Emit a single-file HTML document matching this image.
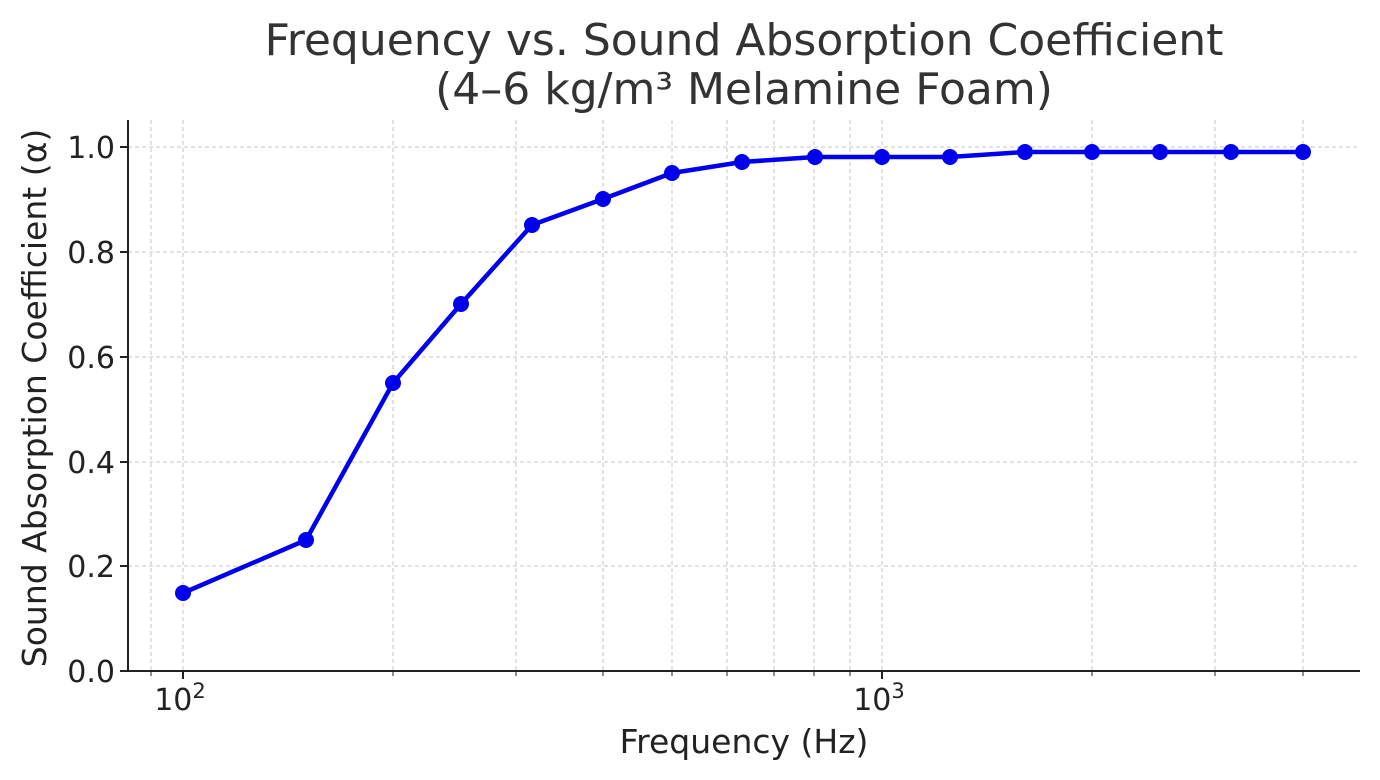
<!DOCTYPE html>
<html><head><meta charset="utf-8"><style>body{margin:0;background:#fff}svg{display:block}text{font-family:"DejaVu Sans","Liberation Sans",sans-serif;fill:#222}</style></head>
<body>
<svg width="1380" height="780" viewBox="0 0 1380 780">
<text x="744" y="55" font-size="44" text-anchor="middle" style="fill:#333">Frequency vs. Sound Absorption Coefficient</text>
<text x="744" y="104" font-size="44" text-anchor="middle" style="fill:#333">(4–6 kg/m³ Melamine Foam)</text>
<g stroke="#c4c4c4" stroke-width="1" stroke-dasharray="4,3">
<line x1="128" x2="1360" y1="566" y2="566"/><line x1="128" x2="1360" y1="462" y2="462"/><line x1="128" x2="1360" y1="357" y2="357"/><line x1="128" x2="1360" y1="252" y2="252"/><line x1="128" x2="1360" y1="147" y2="147"/>
<line x1="151" x2="151" y1="120" y2="671"/><line x1="183" x2="183" y1="120" y2="671"/><line x1="393" x2="393" y1="120" y2="671"/><line x1="516" x2="516" y1="120" y2="671"/><line x1="603" x2="603" y1="120" y2="671"/><line x1="672" x2="672" y1="120" y2="671"/><line x1="727" x2="727" y1="120" y2="671"/><line x1="774" x2="774" y1="120" y2="671"/><line x1="814" x2="814" y1="120" y2="671"/><line x1="850" x2="850" y1="120" y2="671"/><line x1="882" x2="882" y1="120" y2="671"/><line x1="1092" x2="1092" y1="120" y2="671"/><line x1="1215" x2="1215" y1="120" y2="671"/><line x1="1303" x2="1303" y1="120" y2="671"/>
</g>
<g stroke="#222" stroke-width="2">
<line x1="128" x2="128" y1="120" y2="672"/><line x1="127" x2="1360" y1="671" y2="671"/>
<line x1="120" x2="128" y1="671" y2="671"/><line x1="120" x2="128" y1="566" y2="566"/><line x1="120" x2="128" y1="462" y2="462"/><line x1="120" x2="128" y1="357" y2="357"/><line x1="120" x2="128" y1="252" y2="252"/><line x1="120" x2="128" y1="147" y2="147"/>
<line x1="183" x2="183" y1="671" y2="679"/><line x1="882" x2="882" y1="671" y2="679"/>
</g>
<g stroke="#222" stroke-width="1">
<line x1="151" x2="151" y1="671" y2="676"/><line x1="393" x2="393" y1="671" y2="676"/><line x1="516" x2="516" y1="671" y2="676"/><line x1="603" x2="603" y1="671" y2="676"/><line x1="672" x2="672" y1="671" y2="676"/><line x1="727" x2="727" y1="671" y2="676"/><line x1="774" x2="774" y1="671" y2="676"/><line x1="814" x2="814" y1="671" y2="676"/><line x1="850" x2="850" y1="671" y2="676"/><line x1="1092" x2="1092" y1="671" y2="676"/><line x1="1215" x2="1215" y1="671" y2="676"/><line x1="1303" x2="1303" y1="671" y2="676"/>
</g>
<g font-size="30" text-anchor="end">
<text x="115" y="682">0.0</text><text x="115" y="577">0.2</text><text x="115" y="473">0.4</text><text x="115" y="368">0.6</text><text x="115" y="263">0.8</text><text x="115" y="158">1.0</text>
</g>
<text x="180" y="710" font-size="30" text-anchor="middle">10<tspan dy="-12" font-size="21">2</tspan></text>
<text x="879" y="710" font-size="30" text-anchor="middle">10<tspan dy="-12" font-size="21">3</tspan></text>
<text x="744" y="753" font-size="33" text-anchor="middle">Frequency (Hz)</text>
<text transform="translate(46,398) rotate(-90)" font-size="33" text-anchor="middle">Sound Absorption Coefficient (α)</text>
<polyline fill="none" stroke="#0000ee" stroke-width="4.5" stroke-linejoin="round" points="183,593 306,540 393,383 461,304 532,225 603,199 672,173 742,162 815,157 882,157 950,157 1025,152 1092,152 1160,152 1231,152 1303,152"/>
<g fill="#0000ee">
<circle cx="183" cy="593" r="8"/><circle cx="306" cy="540" r="8"/><circle cx="393" cy="383" r="8"/><circle cx="461" cy="304" r="8"/><circle cx="532" cy="225" r="8"/><circle cx="603" cy="199" r="8"/><circle cx="672" cy="173" r="8"/><circle cx="742" cy="162" r="8"/><circle cx="815" cy="157" r="8"/><circle cx="882" cy="157" r="8"/><circle cx="950" cy="157" r="8"/><circle cx="1025" cy="152" r="8"/><circle cx="1092" cy="152" r="8"/><circle cx="1160" cy="152" r="8"/><circle cx="1231" cy="152" r="8"/><circle cx="1303" cy="152" r="8"/>
</g>
</svg>
</body></html>
